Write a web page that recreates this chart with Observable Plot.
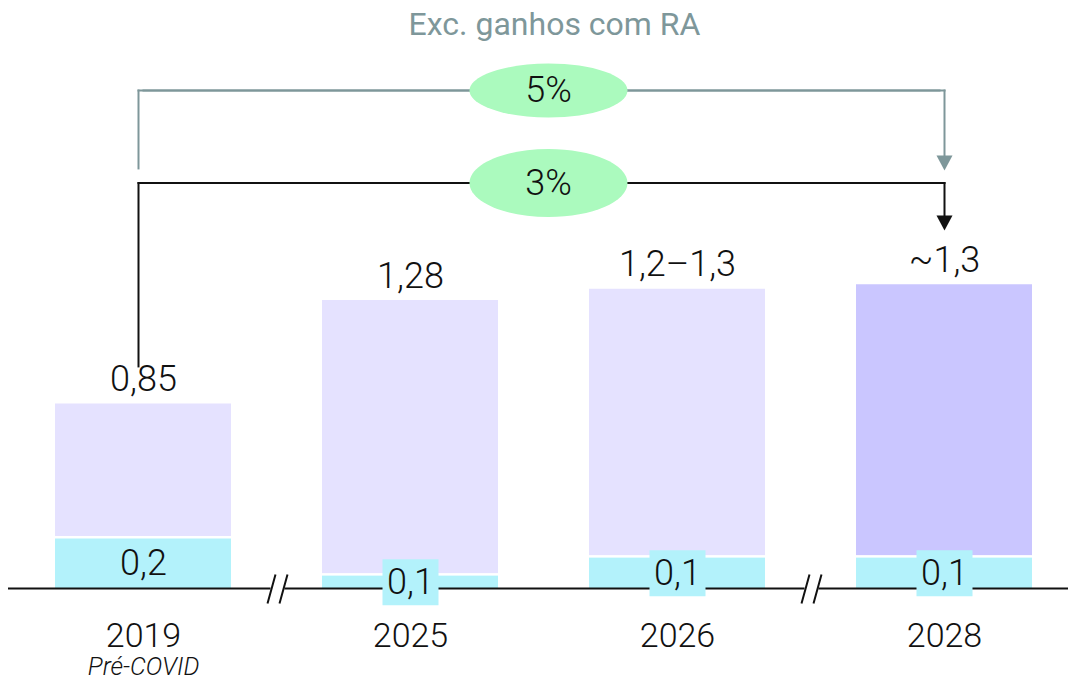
<!DOCTYPE html>
<html><head><meta charset="utf-8">
<script src="https://cdn.jsdelivr.net/npm/d3@7"></script>
<script src="https://cdn.jsdelivr.net/npm/@observablehq/plot@0.6"></script>
<style>
html,body{margin:0;padding:0;background:#fff;}
#chart svg{display:block;font-family:Roboto,"Liberation Sans",sans-serif;overflow:visible;}
</style></head><body><div id="chart"></div>
<script>
// ---- data ----
const years = ["2019", "2025", "2026", "2028"];
const yearNotes = ["Pré-COVID", "", "", ""];
const baseValues = [0.22, 0.055, 0.135, 0.135];      // cyan segment (bar height as drawn)
const totalValues = [0.82, 1.28, 1.33, 1.35];        // full bar height as drawn
const baseLabels = ["0,2", "0,1", "0,1", "0,1"];
const totalLabels = ["0,85", "1,28", "1,2–1,3", "~1,3"];
const barKinds = ["actual", "actual", "actual", "target"];
const breaksAfter = ["2019", "2026"];
const growthLabels = ["5%", "3%"];
const growthKinds = ["exRA", "total"];
const titleText = "Exc. ganhos com RA";

// ---- styles / layout ----
const CYAN = "#b3f2fb", LILAC = "#e5e2ff", LILAC_DARK = "#cac6ff";
const GREEN = "#abfabe", GREY = "#7e979a", INK = "#111111";
const W = 1068, H = 680;
const PX_PER_UNIT = 225, BASE_Y = 588;
const yTop = BASE_Y / PX_PER_UNIT;
const NUM_WEIGHT = 300;

const rows = years.map((year, i) => ({
  year, note: yearNotes[i], base: baseValues[i], total: totalValues[i],
  baseLabel: baseLabels[i], totalLabel: totalLabels[i], kind: barKinds[i]
}));

// annotation levels (data units)
const LEVEL = {exRA: 2.213, total: 1.802};
const START = {exRA: 1.867, total: totalValues[0] + 0.167};
const TIP = {exRA: 1.858, total: 1.591};
const growth = growthKinds.map((k, i) => ({kind: k, label: growthLabels[i]}));
const strokeOf = k => k === "exRA" ? GREY : INK;

// custom symbols
const boxSymbol = {draw(ctx) { ctx.rect(-28, -23, 56, 46); }};
const headSymbol = {draw(ctx) { ctx.moveTo(-8, -15); ctx.lineTo(8, -15); ctx.lineTo(0, 0); ctx.closePath(); }};
const ellipse = (rx, ry) => ({draw(ctx) {
  const k = 0.5523;
  ctx.moveTo(rx, 0);
  ctx.bezierCurveTo(rx, ry * k, rx * k, ry, 0, ry);
  ctx.bezierCurveTo(-rx * k, ry, -rx, ry * k, -rx, 0);
  ctx.bezierCurveTo(-rx, -ry * k, -rx * k, -ry, 0, -ry);
  ctx.bezierCurveTo(rx * k, -ry, rx, -ry * k, rx, 0);
  ctx.closePath();
}});
const gapSymbol = {draw(ctx) { ctx.rect(-7, -3, 14, 6); }};
const slashSymbol = {draw(ctx) {
  ctx.moveTo(-10, 15); ctx.lineTo(-2, -14);
  ctx.moveTo(2, 15); ctx.lineTo(10, -14);
}};

const arrowMarks = growth.flatMap(g => {
  const k = g.kind, s = strokeOf(k);
  const common = {stroke: s, strokeWidth: 2, strokeLinecap: "square"};
  return [
    Plot.link([g], {x1: () => years[0], x2: () => years[0], y1: () => START[k], y2: () => LEVEL[k], dx: -5, ...common}),
    Plot.link([g], {x1: () => years[0], x2: () => years[3], y1: () => LEVEL[k], y2: () => LEVEL[k], dx: -5, ...common}),
    Plot.link([g], {x1: () => years[0], x2: () => years[3], y1: () => LEVEL[k], y2: () => LEVEL[k], ...common}),
    Plot.link([g], {x1: () => years[3], x2: () => years[3], y1: () => LEVEL[k], y2: () => TIP[k] + 0.04, ...common})
  ];
});

const chart = Plot.plot({
  width: W, height: H,
  marginTop: 0, marginBottom: H - BASE_Y, marginLeft: 8, marginRight: 0,
  x: {domain: years, range: [8, 1079], paddingInner: 0.34, paddingOuter: 0.17, axis: null},
  y: {domain: [0, yTop], axis: null},
  marks: [
    Plot.barY(rows, {x: "year", y1: 0, y2: "base", fill: CYAN}),
    Plot.barY(rows, {x: "year", y1: "base", y2: "total", insetBottom: 2.5,
      fill: d => d.kind === "target" ? LILAC_DARK : LILAC}),
    Plot.ruleY([0], {stroke: INK, strokeWidth: 2}),
    Plot.dot(breaksAfter, {x: d => d, y: 0, dx: 134, symbol: gapSymbol, fill: "white", stroke: "none"}),
    Plot.dot(breaksAfter, {x: d => d, y: 0, dx: 134, symbol: slashSymbol, fill: "none", stroke: INK, strokeWidth: 2}),
    Plot.dot(rows, {x: "year", y: d => d.base / 2, symbol: boxSymbol, fill: CYAN, stroke: "none"}),
    Plot.text(rows, {x: "year", y: d => d.base / 2, text: "baseLabel", fontSize: 36, fontWeight: NUM_WEIGHT, fill: INK}),
    Plot.text(rows, {x: "year", y: "total", text: "totalLabel", lineAnchor: "bottom", dy: -13, fontSize: 36, fontWeight: NUM_WEIGHT, fill: INK}),
    Plot.text(rows, {x: "year", y: 0, text: "year", dy: 48, fontSize: 34, fontWeight: NUM_WEIGHT, fill: INK}),
    Plot.text(rows, {x: "year", y: 0, text: "note", lineAnchor: "bottom", dy: 86, fontSize: 25, fontWeight: NUM_WEIGHT, fontStyle: "italic", fill: INK}),
    // growth arrows
    ...arrowMarks,
    Plot.dot(growth, {x: () => years[3], y: d => TIP[d.kind], symbol: headSymbol,
      fill: d => strokeOf(d.kind), stroke: "none"}),
    Plot.dot(growth.filter(d => d.kind === "exRA"), {x: () => years[1], y: d => LEVEL[d.kind], dx: 138,
      symbol: ellipse(79, 27), fill: GREEN, stroke: "none"}),
    Plot.dot(growth.filter(d => d.kind === "total"), {x: () => years[1], y: d => LEVEL[d.kind], dx: 138,
      symbol: ellipse(79, 34), fill: GREEN, stroke: "none"}),
    Plot.text(growth, {x: () => years[1], y: d => LEVEL[d.kind], dx: 138, text: "label", fontSize: 36, fontWeight: NUM_WEIGHT, fill: INK}),
    // title
    Plot.text([titleText], {frameAnchor: "top", dx: 16, dy: 12, lineAnchor: "top", fontSize: 32,
      fontWeight: 400, fill: GREY})
  ]
});
document.getElementById("chart").append(chart);
</script></body></html>
